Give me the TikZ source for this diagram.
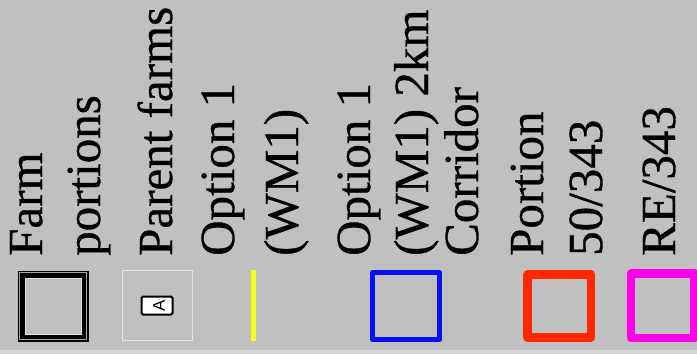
\documentclass[tikz,border=0pt]{standalone}
\usepackage{fontspec}
\setmainfont{Liberation Serif}
\newfontfamily\legfont[FakeBold=0.7]{Liberation Serif}
\newfontfamily\labfont{Liberation Sans}
\definecolor{bg}{HTML}{C0C0C0}
\definecolor{strip}{HTML}{D8D8D8}
\definecolor{lite}{HTML}{E4E4E4}
\definecolor{wmyellow}{HTML}{F4FF1C}
\definecolor{wmblue}{HTML}{0A10F5}
\definecolor{pred}{HTML}{FF2800}
\definecolor{remag}{HTML}{FF00E8}
\begin{document}
\begin{tikzpicture}[x=1pt,y=-1pt,
  lab/.style={rotate=90, anchor=base west, inner sep=0pt, font=\legfont\fontsize{49}{49}\selectfont},
  symline/.style={line join=round}]
\fill[bg] (0,0) rectangle (697,354);
\fill[strip] (0,350) rectangle (697,354);
\useasboundingbox (0,0) rectangle (697,354);
% texts
\node[lab] (t1) at (42,256) {Farm};
\node[lab] (t2) at (100,256) {portions};
\node[lab] (t3) at (172,256) {Parent farms};
\node[lab] (t4) at (234,256) {Option 1};
\node[lab] (t5) at (298,256) {(WM1)};
\node[lab] (t6) at (370,256) {Option 1};
\node[lab] (t7) at (428,256) {(WM1) 2km};
\node[lab] (t8) at (478,256) {Corridor};
\node[lab] (t9) at (543,256) {Portion};
\node[lab] (t10) at (602,256) {50/343};
\node[lab] (t11) at (675,256) {RE/343};
% farm portions symbol
\draw[black, line width=7pt] (21,274) rectangle (85,338);
\draw[gray!70, line width=0.5pt] (19.5,272.5) rectangle (86.5,339.5);
\draw[lite, line width=0.8pt] (25,278) rectangle (81,334);
% parent farms symbol
\draw[lite, line width=1pt] (122.5,270.5) rectangle (192.5,340.5);
\node[draw, line width=2pt, fill=white, rounded corners=1.5pt, minimum width=31pt, minimum height=18pt, inner sep=0pt] (pfbox) at (157,305.5) {};
\node[rotate=90, inner sep=0pt, font=\labfont\fontsize{17}{17}\selectfont] (pfa) at (159,305.5) {A};
% option 1 line
\draw[wmyellow, line width=5pt] (253,270) -- (253,341);
% corridor
\draw[wmblue, line width=5pt, symline] (372.5,272.8) rectangle (439.8,339.5);
% portion 50/343
\draw[pred, line width=8.4pt, symline] (527.5,274.5) rectangle (591,337.5);
% RE/343
\draw[remag, line width=8.4pt, symline] (631,273.5) rectangle (694.5,338);
\end{tikzpicture}
\end{document}
